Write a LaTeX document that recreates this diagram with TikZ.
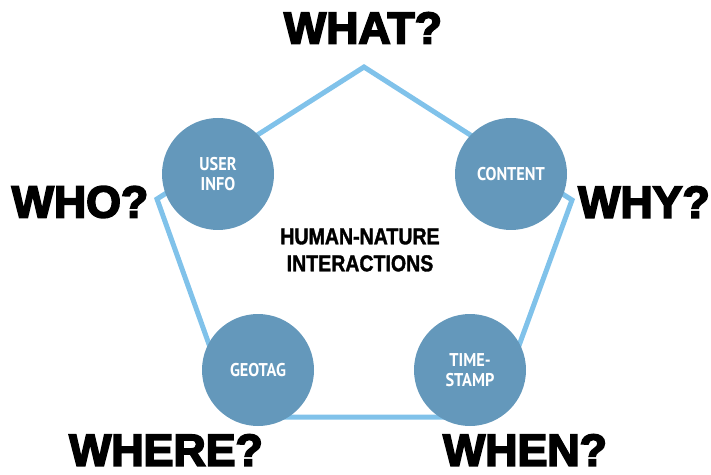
\documentclass[tikz,border=0pt]{standalone}
\usepackage{fontspec}
\usepackage{tikz}
\usetikzlibrary{shapes,positioning}

\setmainfont{Liberation Sans}
\newfontfamily\heavyfont[FakeBold=4]{Liberation Sans Bold}
\newfontfamily\hubfont[FakeStretch=0.85,FakeBold=1.5]{Liberation Sans Bold}
\newfontfamily\topicfont[FakeStretch=0.88]{PT Sans Bold}

\definecolor{topicblue}{RGB}{100,152,187}
\definecolor{rimblue}{RGB}{128,194,234}

\begin{document}
\begin{tikzpicture}[x=1pt, y=1pt,
    topic/.style={circle, fill=topicblue, minimum size=112pt, inner sep=0pt, text=white, align=center, font=\topicfont\fontsize{18.5}{20}\selectfont},
    question/.style={inner sep=0pt, font=\heavyfont\fontsize{44.7}{50}\selectfont},
    rim/.style={draw=rimblue, line width=5pt, line join=miter}]
\useasboundingbox (0,0) rectangle (711,474);

% corners of the pentagon
\coordinate (apex) at (364,407);
\coordinate (east) at (572,274);
\coordinate (se) at (493,57);
\coordinate (sw) at (235,57);
\coordinate (west) at (157,275);
\draw[rim] (apex) -- (east) -- (se) -- (sw) -- (west) -- cycle;

% the four data circles
\node[topic] (user) at (218,300) {USER\\INFO};
\node[topic] (content) at (511,300) {CONTENT};
\node[topic] (geotag) at (258,104) {GEOTAG};
\node[topic] (stamp) at (470,104) {TIME-\\STAMP};

\node[align=center, font=\hubfont\fontsize{23}{27}\selectfont] (hub) at (360,224) {HUMAN-NATURE\\INTERACTIONS};

% questions round the outside
\node[question] (what) at (363,446) {WHAT?};
\node[question] (who) at (80,272) {WHO?};
\node[question] (why) at (644,272) {WHY?};
\node[question] (where) at (166,24) {WHERE?};
\node[question] (when) at (525,24) {WHEN?};
\end{tikzpicture}
\end{document}
